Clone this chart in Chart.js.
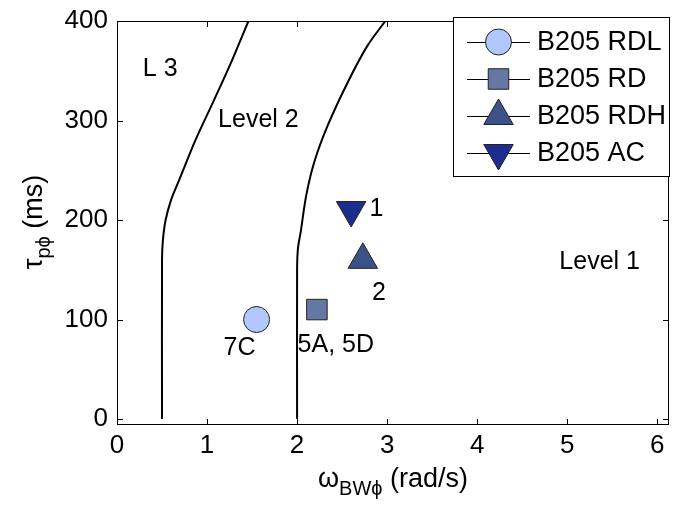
<!DOCTYPE html>
<html>
<head>
<meta charset="utf-8">
<script src="https://cdn.jsdelivr.net/npm/chart.js@4"></script>
<style>
  html, body { margin: 0; padding: 0; background: #fff; overflow: hidden; }
  #wrap { width: 673px; height: 505px; }
  canvas { display: block; }
</style>
</head>
<body>
<div id="wrap"><canvas id="myChart" width="673" height="505"></canvas></div>
<script>
'use strict'

// boundary between Level 3 and Level 2
const lvl3X = [0.5, 0.5, 0.51, 0.54, 0.6, 0.69, 0.87, 1.08, 1.28, 1.46];
const lvl3Y = [0, 160, 180, 200, 220, 240, 280, 321, 361, 400];
// boundary between Level 2 and Level 1
const lvl2X = [2.0, 2.0, 2.01, 2.04, 2.10, 2.19, 2.34, 2.56, 2.78, 2.98];
const lvl2Y = [0, 150, 172, 188, 224, 258, 295, 338, 375, 400];

// test points
const seriesNames = ['B205 RDL', 'B205 RD', 'B205 RDH', 'B205 AC'];
const seriesX = [1.55, 2.22, 2.73, 2.6];
const seriesY = [100, 110, 160, 210];

// text labels in the plot (data coords)
const noteText = ['L 3', 'Level 2', 'Level 1', '1', '2', '7C', '5A, 5D'];
const noteX = [0.48, 1.57, 5.36, 2.88, 2.91, 1.36, 2.43];
const noteY = [352, 300, 158, 211, 127, 71, 74];

const xTicks = [0, 1, 2, 3, 4, 5, 6];
const yTicks = [0, 100, 200, 300, 400];

const FONT = '"Liberation Sans", Arial, Helvetica, sans-serif';
const markerStyle = [
  { pointStyle: 'circle', radius: 13, rotation: 0, color: '#b3c7ff' },
  { pointStyle: 'rect', radius: 14.5, rotation: 0, color: '#6577a4' },
  { pointStyle: 'triangle', radius: 17, rotation: 0, color: '#3b5288' },
  { pointStyle: 'triangle', radius: 17, rotation: 180, color: '#1c2d8d' },
];

function toPoints(xs, ys) {
  return xs.map((v, i) => ({ x: v, y: ys[i] }));
}

const datasets = [
  { data: toPoints(lvl3X, lvl3Y), showLine: true, borderColor: '#000', borderWidth: 2, pointRadius: 0, tension: 0.3 },
  { data: toPoints(lvl2X, lvl2Y), showLine: true, borderColor: '#000', borderWidth: 2, pointRadius: 0, tension: 0.3 },
];
seriesNames.forEach((name, i) => {
  const m = markerStyle[i];
  datasets.push({
    label: name,
    data: [{ x: seriesX[i], y: seriesY[i] }],
    showLine: false,
    pointStyle: m.pointStyle,
    pointRadius: m.radius,
    pointRotation: m.rotation,
    backgroundColor: m.color,
    borderColor: '#222',
    borderWidth: 1,
  });
});

// draw text with a subscript part
function richText(ctx, parts, x, y) {
  let w = 0;
  parts.forEach(p => {
    ctx.font = (p.sub ? '20px ' : '27px ') + FONT;
    p.w = ctx.measureText(p.t).width;
    w += p.w;
  });
  let cx = x - w / 2;
  parts.forEach(p => {
    ctx.font = (p.sub ? '20px ' : '27px ') + FONT;
    ctx.fillText(p.t, cx, p.sub ? y + 8 : y);
    cx += p.w;
  });
}

const decor = {
  id: 'decor',
  afterDatasetsDraw(chart) {
    const { ctx, chartArea: a, scales: { x, y } } = chart;
    ctx.save();
    ctx.strokeStyle = '#000';
    ctx.lineWidth = 1;
    ctx.strokeRect(a.left + 0.5, a.top + 0.5, a.right - a.left - 1, a.bottom - a.top - 1);

    // inward ticks on all four sides
    ctx.beginPath();
    xTicks.forEach(v => {
      const px = Math.round(x.getPixelForValue(v)) + 0.5;
      ctx.moveTo(px, a.bottom); ctx.lineTo(px, a.bottom - 6);
      ctx.moveTo(px, a.top); ctx.lineTo(px, a.top + 6);
    });
    yTicks.forEach(v => {
      const py = Math.round(y.getPixelForValue(v)) + 0.5;
      ctx.moveTo(a.left, py); ctx.lineTo(a.left + 6, py);
      ctx.moveTo(a.right, py); ctx.lineTo(a.right - 6, py);
    });
    ctx.stroke();

    // notes
    ctx.fillStyle = '#000';
    ctx.font = '25px ' + FONT;
    ctx.textAlign = 'center';
    ctx.textBaseline = 'middle';
    noteText.forEach((t, i) => {
      ctx.fillText(t, x.getPixelForValue(noteX[i]), y.getPixelForValue(noteY[i]));
    });

    // legend
    const lx = 453, ly = 17, lw = 216, lh = 159;
    ctx.fillStyle = '#fff';
    ctx.fillRect(lx, ly, lw, lh);
    ctx.strokeRect(lx + 0.5, ly + 0.5, lw, lh);
    const rowY = [42, 79, 116, 153];
    seriesNames.forEach((name, i) => {
      const ry = rowY[i];
      const m = markerStyle[i];
      ctx.beginPath();
      ctx.moveTo(467, ry + 0.5); ctx.lineTo(530, ry + 0.5);
      ctx.strokeStyle = '#000';
      ctx.stroke();
      ctx.fillStyle = m.color;
      ctx.strokeStyle = '#222';
      Chart.helpers.drawPoint(ctx, { pointStyle: m.pointStyle, radius: m.radius, rotation: m.rotation, borderWidth: 1 }, 498.5, ry);
      ctx.fillStyle = '#000';
      ctx.textAlign = 'left';
      ctx.font = '27px ' + FONT;
      ctx.fillText(name, 537, ry + 1);
    });

    // axis titles
    ctx.textAlign = 'left';
    ctx.textBaseline = 'alphabetic';
    richText(ctx, [{ t: 'ω' }, { t: 'BWϕ', sub: true }, { t: ' (rad/s)' }], (a.left + a.right) / 2, 487);
    ctx.translate(42, 222);
    ctx.rotate(-Math.PI / 2);
    richText(ctx, [{ t: 'τ' }, { t: 'pϕ', sub: true }, { t: ' (ms)' }], 0, 0);
    ctx.restore();
  }
};

const ctx = document.getElementById('myChart').getContext('2d');
const myChart = new Chart(ctx, {
  type: 'scatter',
  data: { datasets },
  options: {
    responsive: false,
    animation: false,
    layout: { autoPadding: false, padding: { top: 21, right: 4, left: 0, bottom: 0 } },
    plugins: { legend: { display: false }, tooltip: { enabled: false } },
    scales: {
      x: {
        type: 'linear',
        min: 0,
        max: 6.13,
        afterBuildTicks: s => { s.ticks = xTicks.map(v => ({ value: v })); },
        afterFit: s => { s.height = 80; s.paddingLeft = 0; s.paddingRight = 0; },
        grid: { display: false, drawTicks: false },
        border: { display: false },
        ticks: { color: '#000', padding: 5, maxRotation: 0, font: { size: 26, family: FONT } },
      },
      y: {
        type: 'linear',
        min: -6,
        max: 400,
        afterBuildTicks: s => { s.ticks = yTicks.map(v => ({ value: v })); },
        afterFit: s => { s.width = 117; s.paddingTop = 0; s.paddingBottom = 0; },
        grid: { display: false, drawTicks: false },
        border: { display: false },
        ticks: { color: '#000', padding: 9, font: { size: 26, family: FONT } },
      },
    },
  },
  plugins: [decor],
});
</script>
</body>
</html>
